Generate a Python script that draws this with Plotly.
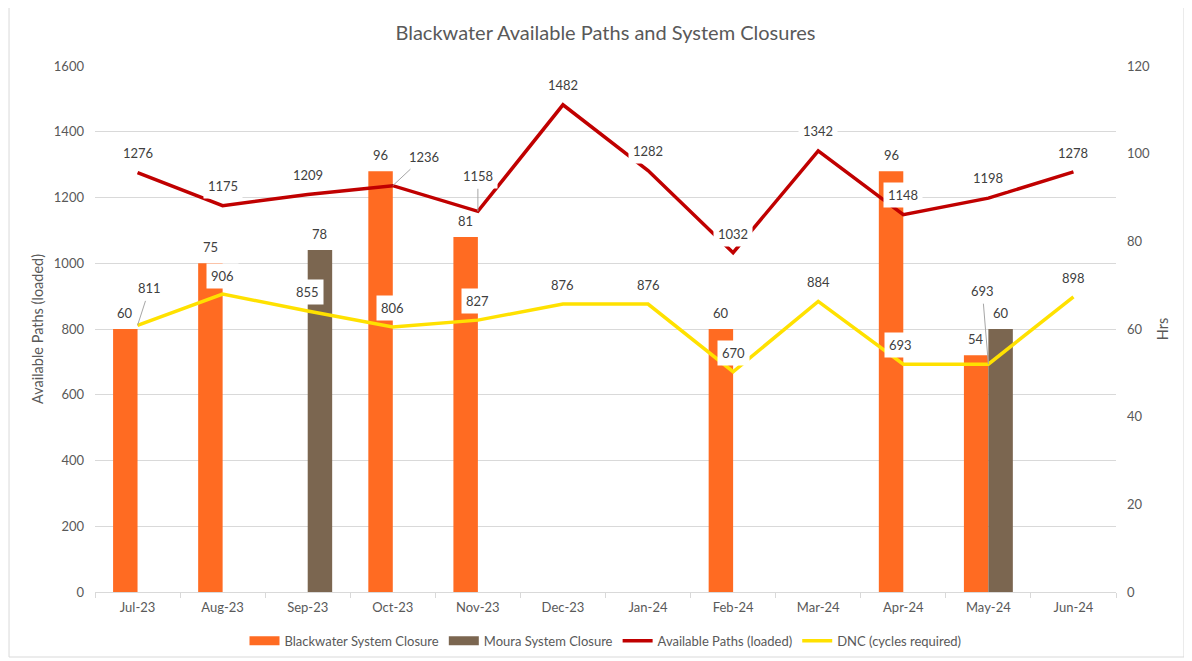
import plotly.graph_objects as go

# ---------------- data ----------------
months = ["Jul-23", "Aug-23", "Sep-23", "Oct-23", "Nov-23", "Dec-23",
          "Jan-24", "Feb-24", "Mar-24", "Apr-24", "May-24", "Jun-24"]
blackwater_closure = [60, 75, None, 96, 81, None, None, 60, None, 96, 54, None]
moura_closure = [None, None, 78, None, None, None, None, None, None, None, 60, None]
available_paths = [1276, 1175, 1209, 1236, 1158, 1482, 1282, 1032, 1342, 1148, 1198, 1278]
dnc_cycles = [811, 906, 855, 806, 827, 876, 876, 670, 884, 693, 693, 898]

# label offsets in pixels (dx, dy up) and whether a leader line is drawn
paths_label_offsets = [(0, 20), (0, 20), (0, 20), (31, 29, True), (0, 35, True), (0, 20),
                       (0, 20), (0, 19), (0, 20), (0, 20), (0, 20), (0, 19)]
dnc_label_offsets = [(12, 37, True), (0, 18), (0, 19), (0, 19), (0, 19), (0, 19),
                     (0, 19), (0, 19), (0, 19), (-3, 19), (-6, 73, True), (0, 19)]

TXT = "#595959"
LBL = "#404040"
GRID = "#D9D9D9"
ORANGE = "#FF6B22"
BROWN = "#7B6650"
RED = "#C00000"
YELLOW = "#FFE100"
FONT = "Lato"

fig = go.Figure()
fig.add_trace(go.Bar(x=months, y=blackwater_closure, name="Blackwater System Closure",
                     marker=dict(color=ORANGE, line=dict(width=0)), yaxis="y",
                     showlegend=False))
fig.add_trace(go.Bar(x=months, y=moura_closure, name="Moura System Closure",
                     marker=dict(color=BROWN, line=dict(width=0)), yaxis="y",
                     showlegend=False))
# legend swatches for the bar series (Excel-style wide rectangles)
fig.add_trace(go.Scatter(x=[None], y=[None], name="Blackwater System Closure", mode="lines",
                         line=dict(color=ORANGE, width=9), yaxis="y2"))
fig.add_trace(go.Scatter(x=[None], y=[None], name="Moura System Closure", mode="lines",
                         line=dict(color=BROWN, width=9), yaxis="y2"))
fig.add_trace(go.Scatter(x=months, y=available_paths, name="Available Paths (loaded)",
                         mode="lines", line=dict(color=RED, width=3.5), yaxis="y2"))
fig.add_trace(go.Scatter(x=months, y=dnc_cycles, name="DNC (cycles required)",
                         mode="lines", line=dict(color=YELLOW, width=3.5), yaxis="y2"))

ann = []
BAR_SHIFT = 12.25
LBL_SIZE = 13


def line_label(m, v, off):
    dx, dy = off[0], off[1]
    leader = len(off) > 2 and off[2]
    a = dict(x=m, y=v, xref="x", yref="y2", text=str(v),
             font=dict(family=FONT, size=LBL_SIZE, color=LBL),
             bgcolor="white", borderpad=4)
    if leader:
        a.update(showarrow=True, arrowhead=0, arrowwidth=1, arrowcolor="#A6A6A6",
                 ax=dx, ay=-dy, standoff=0)
    else:
        a.update(showarrow=False, xshift=dx, yshift=dy)
    return a


for m, v, off in zip(months, available_paths, paths_label_offsets):
    ann.append(line_label(m, v, off))
for m, v, off in zip(months, dnc_cycles, dnc_label_offsets):
    ann.append(line_label(m, v, off))

for m, v in zip(months, blackwater_closure):
    if v is not None:
        ann.append(dict(x=m, y=v, xref="x", yref="y", text=str(v), showarrow=False,
                        xshift=-BAR_SHIFT, yshift=16,
                        font=dict(family=FONT, size=LBL_SIZE, color=LBL)))
for m, v in zip(months, moura_closure):
    if v is not None:
        ann.append(dict(x=m, y=v, xref="x", yref="y", text=str(v), showarrow=False,
                        xshift=BAR_SHIFT, yshift=16,
                        font=dict(family=FONT, size=LBL_SIZE, color=LBL)))

W, H = 1184, 653
fig.update_layout(
    width=W, height=H,
    margin=dict(l=87, r=76, t=58, b=69, autoexpand=False),
    paper_bgcolor="white", plot_bgcolor="white",
    font=dict(family=FONT, size=12, color=TXT),
    title=dict(text="Blackwater Available Paths and System Closures",
               x=0.5, xref="paper", xanchor="center",
               y=1 - 25 / H, yref="container", yanchor="middle",
               font=dict(family=FONT, size=20, color=TXT)),
    barmode="group", bargap=0.425, bargroupgap=0,
    showlegend=True,
    legend=dict(orientation="h", x=0.5, xanchor="center", y=-0.093, yanchor="middle",
                font=dict(family=FONT, size=13, color=TXT), traceorder="normal"),
    xaxis=dict(type="category", showgrid=False, showline=True, linecolor=GRID,
               ticks="outside", tickson="boundaries", ticklen=5, tickcolor=GRID,
               ticklabelstandoff=3,
               tickfont=dict(family=FONT, size=13, color=TXT)),
    yaxis=dict(range=[0, 120], dtick=20, side="right", showgrid=False, zeroline=False,
               title=dict(text="Hrs", font=dict(family=FONT, size=14.5, color=TXT), standoff=8),
               tickfont=dict(family=FONT, size=13, color=TXT), ticklabelstandoff=10),
    yaxis2=dict(range=[0, 1600], dtick=200, side="left", overlaying="y",
                showgrid=True, gridcolor=GRID, gridwidth=1, zeroline=False,
                title=dict(text="Available Paths (loaded)",
                           font=dict(family=FONT, size=14.5, color=TXT), standoff=6),
                tickfont=dict(family=FONT, size=13, color=TXT), ticklabelstandoff=10),
    annotations=ann,
    shapes=[dict(type="rect", xref="paper", yref="paper",
                 x0=-0.0842, x1=1.0666, y0=-0.1236, y1=1.1122,
                 line=dict(color=GRID, width=1), fillcolor="rgba(0,0,0,0)", layer="below")],
)

fig.write_html("out.html")
